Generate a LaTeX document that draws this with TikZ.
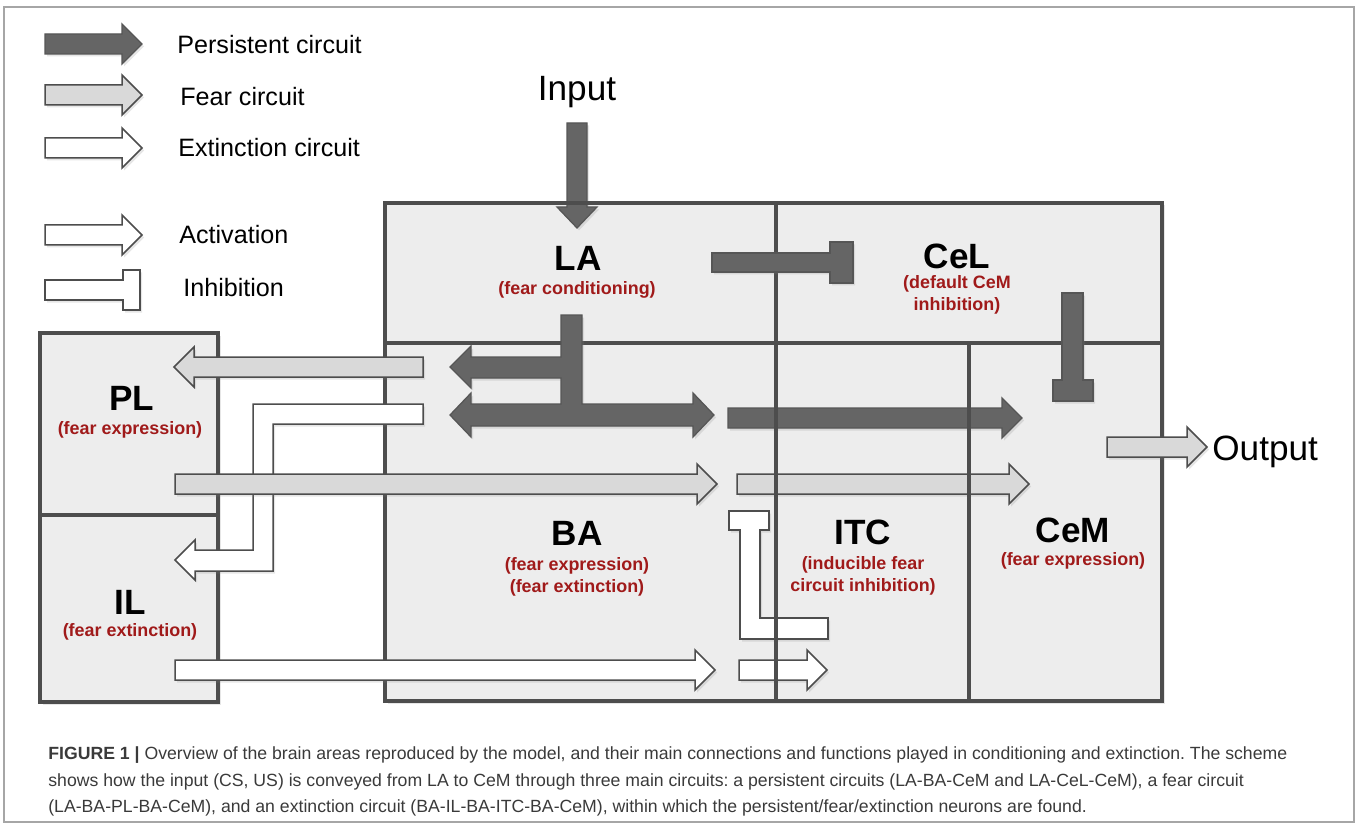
\documentclass[tikz,border=0pt]{standalone}
\usepackage{fontspec}
\setmainfont{Liberation Sans}
\usetikzlibrary{fit,shadows}
\definecolor{boxgray}{HTML}{EDEDED}
\definecolor{edge}{HTML}{4D4D4D}
\definecolor{dark}{HTML}{656565}
\definecolor{fearfill}{HTML}{D9D9D9}
\definecolor{darkred}{HTML}{A01A1A}
\definecolor{capgray}{HTML}{3A3A3A}
\frenchspacing

% block arrows: [style]{tail x}{tip x}{y}
\newcommand{\rightblock}[4][]{\draw[#1] (#2,#4-10) -- (#3-20,#4-10) -- (#3-20,#4-20) -- (#3,#4) -- (#3-20,#4+20) -- (#3-20,#4+10) -- (#2,#4+10) -- cycle;}
\newcommand{\leftblock}[4][]{\draw[#1] (#2,#4-10) -- (#3+20,#4-10) -- (#3+20,#4-20) -- (#3,#4) -- (#3+20,#4+20) -- (#3+20,#4+10) -- (#2,#4+10) -- cycle;}

\begin{document}
\begin{tikzpicture}[
 x=0.2mm, y=-0.2mm,
 region/.style={draw=edge,line width=0.8mm,fill=boxgray,inner sep=0pt,outer sep=0pt,
   drop shadow={shadow xshift=0.5mm,shadow yshift=-0.5mm,opacity=0.2}},
 soft/.style={drop shadow={shadow xshift=0.4mm,shadow yshift=-0.5mm,opacity=0.2}},
 persist/.style={soft,fill=dark,draw=dark!85!black,line width=0.25mm},
 fearpath/.style={soft,fill=fearfill,draw=edge,line width=0.3mm},
 extpath/.style={soft,fill=white,draw=edge,line width=0.3mm},
 title/.style={font=\bfseries\fontsize{20}{24}\selectfont},
 sub/.style={font=\bfseries\fontsize{10.2}{12.2}\selectfont,text=darkred,align=center},
 legend/.style={anchor=base west,inner sep=0pt,font=\fontsize{14.3}{17}\selectfont},
 io/.style={inner sep=0pt,font=\fontsize{20}{24}\selectfont},
 caption/.style={anchor=base west,inner sep=0pt,text=capgray,font=\fontsize{10.05}{12}\selectfont}
]
\useasboundingbox (0,0) rectangle (1359,827);
\draw[gray!70,line width=0.3mm] (4,7) rectangle (1354,822);

% brain areas
\node[region,fit={(385,203) (776,343)}] (LA) {};
\node[region,fit={(776,203) (1162,343)}] (CeL) {};
\node[region,fit={(385,343) (776,701)}] (BA) {};
\node[region,fit={(776,343) (969,701)}] (ITC) {};
\node[region,fit={(969,343) (1162,701)}] (CeM) {};
\node[region,fit={(40,333) (218,515)}] (PL) {};
\node[region,fit={(40,515) (218,702)}] (IL) {};

% legend
\rightblock[persist]{45}{142}{44}
\rightblock[fearpath]{45}{142}{95}
\rightblock[extpath]{45}{142}{148}
\rightblock[extpath]{45}{142}{235}
\draw[extpath] (45,280) -- (123,280) -- (123,270) -- (140,270) -- (140,310) -- (123,310) -- (123,300) -- (45,300) -- cycle;
\node[legend] (legpers) at (177,54) {Persistent circuit};
\node[legend] (legfear) at (180,106) {Fear circuit};
\node[legend] (legext) at (178,157) {Extinction circuit};
\node[legend] (legact) at (179,244) {Activation};
\node[legend] (leginh) at (183,297) {Inhibition};

% input into LA
\node[io,anchor=base] (input) at (577,101) {Input};
\draw[persist] (567,123) -- (587,123) -- (587,207) -- (597,207) -- (577,228) -- (557,207) -- (567,207) -- cycle;
\draw[edge,line width=0.8mm] (LA.north west) -- (LA.north east);

% persistent circuit: LA -| BA, LA -| CeL -| CeM
\draw[persist] (561,315) -- (582,315) -- (582,404) -- (693,404) -- (693,393) -- (714,415)
  -- (693,437) -- (693,426) -- (471,426) -- (471,437) -- (450,415) -- (471,393) -- (471,404)
  -- (561,404) -- (561,378) -- (471,378) -- (471,388) -- (450,367) -- (471,346) -- (471,357)
  -- (561,357) -- cycle;
\rightblock[persist]{728}{1022}{418}
\draw[persist] (712,253) -- (830,253) -- (830,242) -- (853,242) -- (853,283) -- (830,283) -- (830,272) -- (712,272) -- cycle;
\draw[persist] (1062,293) -- (1083,293) -- (1083,380) -- (1093,380) -- (1093,401) -- (1053,401) -- (1053,380) -- (1062,380) -- cycle;

% extinction loop BA -> IL -> BA -> ITC
\draw[extpath] (423,404) -- (423,424) -- (273,424) -- (273,571) -- (195,571) -- (195,580) -- (175,560)
  -- (195,540) -- (195,550) -- (253,550) -- (253,404) -- cycle;
\rightblock[extpath]{175}{715}{670}
\rightblock[extpath]{739}{827}{670}
\draw[extpath] (828,618) -- (828,639) -- (740,639) -- (740,530) -- (729,530) -- (729,511) -- (769,511)
  -- (769,530) -- (760,530) -- (760,618) -- cycle;

% fear circuit BA -> PL -> BA -> CeM
\leftblock[fearpath]{423}{174}{367}
\rightblock[fearpath]{175}{717}{484}
\rightblock[fearpath]{737}{1029}{484}

% output from CeM
\rightblock[fearpath]{1107}{1207}{447}
\node[io,anchor=base west] (output) at (1212,460) {Output};

\draw[edge,line width=0.8mm] (ITC.north west) rectangle (ITC.south east);

% area names
\node[title] (LAt) at (578,258) {LA};
\node[sub] (LAs) at (577,290) {(fear conditioning)};
\node[title] (CeLt) at (957,256) {CeL};
\node[sub] (CeLs) at (957,295) {(default CeM\\inhibition)};
\node[title] (PLt) at (132,398) {PL};
\node[sub] (PLs) at (130,430) {(fear expression)};
\node[title] (ILt) at (130,602) {IL};
\node[sub] (ILs) at (130,632) {(fear extinction)};
\node[title] (BAt) at (577,533) {BA};
\node[sub] (BAs) at (577,577) {(fear expression)\\(fear extinction)};
\node[title] (ITCt) at (863,532) {ITC};
\node[sub] (ITCs) at (863,576) {(inducible fear\\circuit inhibition)};
\node[title] (CeMt) at (1073,530) {CeM};
\node[sub] (CeMs) at (1073,561) {(fear expression)};

% caption
\node[caption] (cap1) at (48,759) {\textbf{FIGURE 1 |} Overview of the brain areas reproduced by the model, and their main connections and functions played in conditioning and extinction. The scheme};
\node[caption] (cap2) at (48,786) {shows how the input (CS, US) is conveyed from LA to CeM through three main circuits: a persistent circuits (LA-BA-CeM and LA-CeL-CeM), a fear circuit};
\node[caption] (cap3) at (48,812) {(LA-BA-PL-BA-CeM), and an extinction circuit (BA-IL-BA-ITC-BA-CeM), within which the persistent/fear/extinction neurons are found.};
\end{tikzpicture}
\end{document}
